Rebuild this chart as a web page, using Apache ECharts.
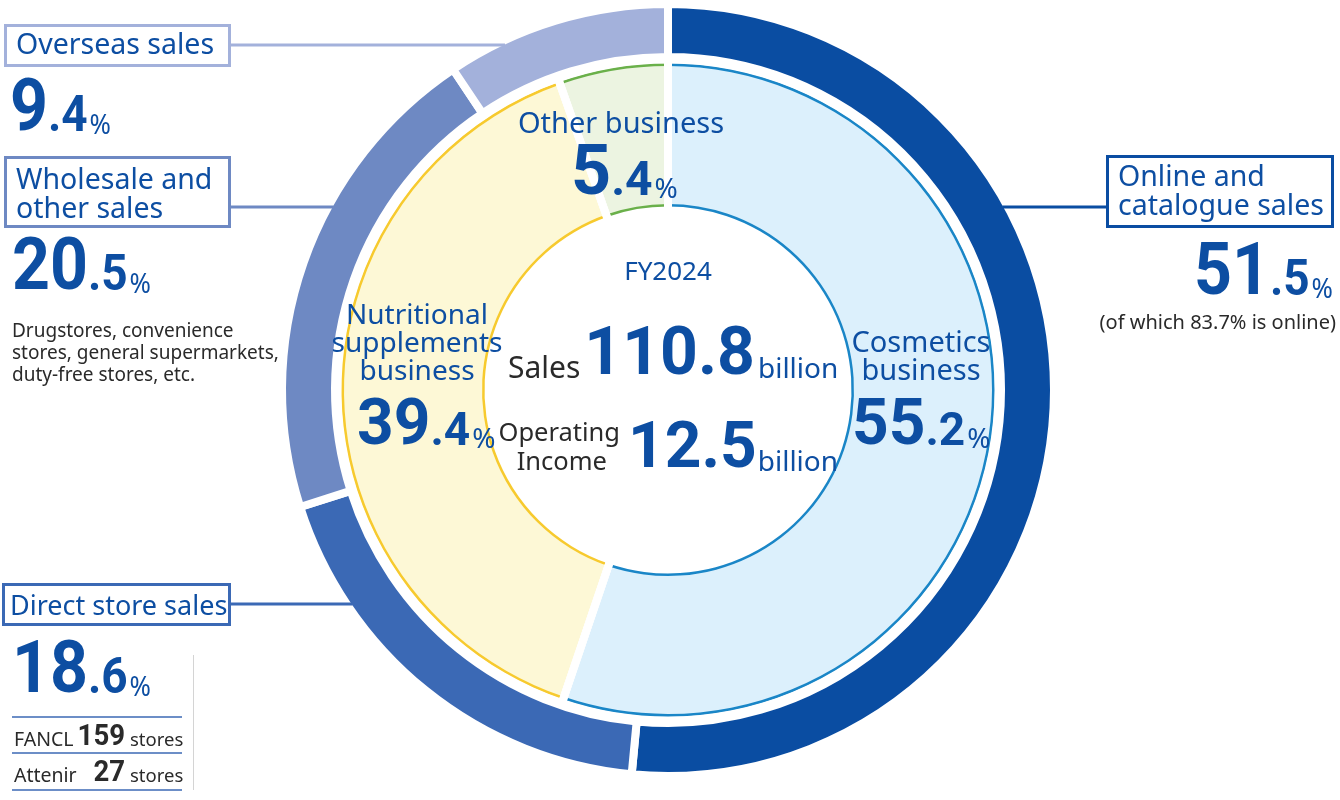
<!DOCTYPE html>
<html>
<head>
<meta charset="utf-8">
<script src="https://cdn.jsdelivr.net/npm/echarts@6/dist/echarts.min.js"></script>
<style>
html,body{margin:0;padding:0;background:#fff;}
#chart{width:1340px;height:800px;}
</style>
</head>
<body>
<div id="chart"></div>
<script>
// ---- data ----
const fiscalYear = 'FY2024';
const outerNames = ['Online and catalogue sales', 'Direct store sales', 'Wholesale and other sales', 'Overseas sales'];
const outerValues = [51.5, 18.6, 20.5, 9.4];
const innerNames = ['Cosmetics business', 'Nutritional supplements business', 'Other business'];
const innerValues = [55.2, 39.4, 5.4];
const salesBillion = 110.8;
const operatingIncomeBillion = 12.5;
const onlineShare = 83.7;
const storeBrands = ['FANCL', 'Attenir'];
const storeCounts = [159, 27];
const wholesaleNote = ['Drugstores, convenience', 'stores, general supermarkets,', 'duty-free stores, etc.'];

// ---- styles ----
const BLUE = '#0d4ea2';
const DARK = '#2a2a2a';
const outerColors = ['#0a4da2', '#3b69b5', '#6e89c3', '#a3b1db'];
const innerFill = ['#dcf0fc', '#fdf8d6', '#ecf4e1'];
const innerStroke = ['#1a86c7', '#f7ca2e', '#6ab04a'];
const CX = 668, CY = 390;
const R_OUT = 382;

const chart = echarts.init(document.getElementById('chart'), null, {renderer: 'canvas'});

// distance (per px of font size) from a token's box bottom up to its baseline
const C = {'Roboto': 0.21, 'Noto Sans': 0.235};
// rich text placed so that every token sits on the given baseline
function rt(x, baseline, parts, align, sx) {
  const rich = {};
  let s = '';
  const cs = parts.map(p => (C[p[4] || 'Noto Sans'] || 0.22) * p[1]);
  const B = Math.max.apply(null, cs);
  parts.forEach((p, i) => {
    const key = 't' + i;
    const fam = p[4] || 'Noto Sans';
    const pad = p[5] || [0, 0, 0, 0];
    rich[key] = {
      fontSize: p[1], fontWeight: p[2] || 'normal', fill: p[3] || BLUE,
      fontFamily: fam, verticalAlign: 'bottom',
      padding: [0, pad[1], B - cs[i], pad[3]]
    };
    s += '{' + key + '|' + p[0] + '}';
  });
  const el = {type: 'text', x: x, y: baseline + B, z: 100, silent: true,
    style: {text: s, rich: rich, align: align || 'left', verticalAlign: 'bottom'}};
  if (sx) { el.scaleX = sx; }
  return el;
}
function pct(x, y, v, big, small, align, sx) {
  const sp = String(v).split('.');
  return rt(x, y, [
    [sp[0], big, 'bold', BLUE, 'Roboto'],
    ['.' + sp[1], small, 'bold', BLUE, 'Roboto'],
    ['%', 28, 'normal', BLUE, 'Noto Sans', [0, 0, 0, 2]]
  ], align, sx);
}
function box(x, y, w, h, color) {
  return {type: 'rect', z: 90, silent: true, shape: {x: x, y: y, width: w, height: h},
    style: {fill: '#fff', stroke: color, lineWidth: 3}};
}
function leader(x1, y, color, side) {
  const dy = y - CY;
  const dx = Math.sqrt(R_OUT * R_OUT - dy * dy) - 1;
  const x2 = side < 0 ? CX - dx : CX + dx;
  return {type: 'line', z: 80, silent: true, shape: {x1: x1, y1: y, x2: x2, y2: y},
    style: {stroke: color, lineWidth: 3}};
}
function hline(x1, x2, y, color, w) {
  return {type: 'line', z: 80, silent: true, shape: {x1: x1, y1: y, x2: x2, y2: y},
    style: {stroke: color, lineWidth: w || 1.5}};
}

const outerData = outerNames.map((n, i) => ({name: n, value: outerValues[i], itemStyle: {color: outerColors[i]}}));
const innerStrokeData = innerNames.map((n, i) => ({name: n, value: innerValues[i], itemStyle: {color: innerStroke[i]}}));
const innerFillData = innerNames.map((n, i) => ({name: n, value: innerValues[i], itemStyle: {color: innerFill[i]}}));
const gapData = innerNames.map((n, i) => ({name: n, value: innerValues[i]}));

const common = {type: 'pie', center: [CX, CY], startAngle: 90, clockwise: true, silent: true,
  label: {show: false}, labelLine: {show: false}, animation: false, avoidLabelOverlap: false};

const graphics = [
  // Overseas
  leader(230, 45, outerColors[3], -1),
  box(5.5, 25.5, 224, 40, outerColors[3]),
  rt(16, 54, [[outerNames[3], 28.5]]),
  pct(10, 133, outerValues[3], 72, 50, 'left', 0.92),
  // Wholesale
  leader(230, 207, outerColors[2], -1),
  box(5.5, 157.5, 224, 69, outerColors[2]),
  rt(16, 189, [['Wholesale and', 28.5]]),
  rt(16, 218, [['other sales', 28.5]]),
  pct(12, 292, outerValues[2], 72, 50, 'left', 0.92),
  rt(12, 337, [[wholesaleNote[0], 19, 'normal', DARK]]),
  rt(12, 359, [[wholesaleNote[1], 19, 'normal', DARK]]),
  rt(12, 381, [[wholesaleNote[2], 19, 'normal', DARK]]),
  // Direct
  leader(230, 604, outerColors[1], -1),
  box(3.5, 584.5, 226, 40, outerColors[1]),
  rt(10, 614, [[outerNames[1], 27]]),
  pct(12, 695, outerValues[1], 72, 50, 'left', 0.92),
  hline(12, 182, 717, outerColors[1]),
  hline(12, 182, 753, outerColors[1]),
  hline(12, 182, 790, outerColors[1]),
  {type: 'line', z: 80, silent: true, shape: {x1: 193.5, y1: 655, x2: 193.5, y2: 790}, style: {stroke: '#d4d4d4', lineWidth: 1}},
  rt(14, 746, [[storeBrands[0], 19.5, 'normal', DARK]]),
  rt(125, 746, [[String(storeCounts[0]), 29, 'bold', DARK, 'Roboto']], 'right', 0.95),
  rt(130, 746, [['stores', 18.5, 'normal', DARK]]),
  rt(14, 782, [[storeBrands[1], 19.5, 'normal', DARK]]),
  rt(125, 782, [[String(storeCounts[1]), 29, 'bold', DARK, 'Roboto']], 'right', 0.95),
  rt(130, 782, [['stores', 18.5, 'normal', DARK]]),
  // Online
  leader(1107, 207, outerColors[0], 1),
  box(1107.5, 156.5, 225, 70, outerColors[0]),
  rt(1118, 186, [['Online and', 28.5]]),
  rt(1118, 215, [['catalogue sales', 28.5]]),
  pct(1333, 297, outerValues[0], 72, 50, 'right', 0.92),
  rt(1336, 329, [['(of which ' + onlineShare + '% is online)', 20, 'normal', DARK]], 'right'),
  // Inner labels
  rt(621, 132, [['Other business', 29]], 'center'),
  pct(571, 197, innerValues[2], 70, 48),
  rt(417, 323, [['Nutritional', 28]], 'center'),
  rt(417, 351, [['supplements', 28]], 'center'),
  rt(417, 379, [['business', 28]], 'center'),
  pct(357, 447, innerValues[1], 64, 46),
  rt(921, 351, [['Cosmetics', 29]], 'center'),
  rt(921, 379, [['business', 29]], 'center'),
  pct(852, 447, innerValues[0], 64, 46),
  // Center
  rt(668, 279, [[fiscalYear, 26]], 'center'),
  rt(508, 377, [['Sales', 30, 'normal', DARK], [String(salesBillion), 66, 'bold', BLUE, 'Roboto', [0, 3, 0, 4]], ['billion', 28]]),
  rt(620, 441, [['Operating', 25.5, 'normal', DARK]], 'right'),
  rt(607, 470, [['Income', 25.5, 'normal', DARK]], 'right'),
  rt(628, 470, [[String(operatingIncomeBillion), 64, 'bold', BLUE, 'Roboto', [0, 1, 0, 0]], ['billion', 28]])
];

chart.setOption({
  backgroundColor: '#ffffff',
  animation: false,
  series: [
    Object.assign({}, common, {name: 'channel', z: 2, radius: [333, 386], data: outerData,
      itemStyle: {borderColor: '#ffffff', borderWidth: 8}}),
    Object.assign({}, common, {name: 'segLine', z: 3, radius: [183.5, 326.5], data: innerStrokeData,
      itemStyle: {borderWidth: 0}}),
    Object.assign({}, common, {name: 'segFill', z: 4, radius: [186, 324], data: innerFillData,
      itemStyle: {borderWidth: 0}}),
    Object.assign({}, common, {name: 'segGap', z: 5, radius: [175, 331], data: gapData,
      itemStyle: {color: 'rgba(0,0,0,0)', borderColor: '#ffffff', borderWidth: 8}})
  ],
  graphic: graphics
});
</script>
</body>
</html>
